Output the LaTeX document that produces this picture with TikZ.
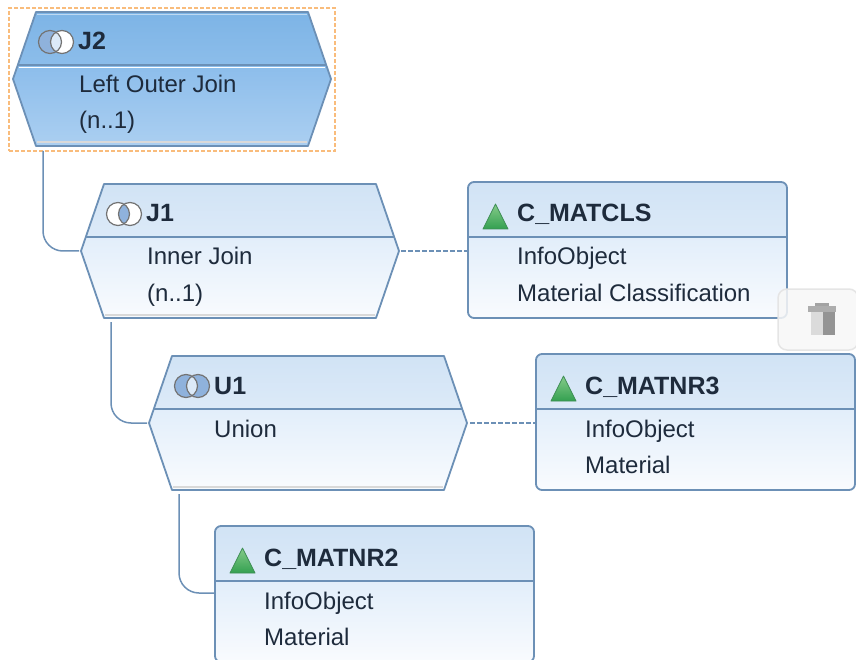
\documentclass[tikz,border=0pt]{standalone}
\usepackage{fontspec}
\setmainfont{Liberation Sans}
\usetikzlibrary{calc}
\definecolor{edgeblue}{HTML}{6C90B6}
\definecolor{inktext}{HTML}{1E2B3C}
\definecolor{lhA}{HTML}{D1E3F5}
\definecolor{lhB}{HTML}{DCEAF8}
\definecolor{lbA}{HTML}{E2EEFA}
\definecolor{lbB}{HTML}{F9FBFE}
\definecolor{dhA}{HTML}{7DB4E6}
\definecolor{dhB}{HTML}{8CBDEA}
\definecolor{dbA}{HTML}{8CBDEB}
\definecolor{dbB}{HTML}{ABCFF1}
\definecolor{venn}{HTML}{8FB2DC}
\definecolor{triA}{HTML}{86CB8A}
\definecolor{triB}{HTML}{33A050}
\definecolor{triE}{HTML}{3E8E55}
\definecolor{selorange}{HTML}{F9BC7C}
\tikzset{
  anchorbox/.style={inner sep=0pt,outer sep=0pt,minimum width=#1},
  titletext/.style={anchor=base west,inner sep=0pt,text=inktext,font=\fontsize{25}{28}\selectfont\bfseries},
  bodytext/.style={anchor=base west,inner sep=0pt,text=inktext,font=\fontsize{24}{28}\selectfont},
  outline/.style={draw=edgeblue,line width=1.8pt,line join=round},
  link/.style={draw=edgeblue,line width=1.5pt,rounded corners=20pt},
  dashlink/.style={draw=edgeblue,line width=1.2pt,dash pattern=on 5pt off 2pt},
  vennring/.style={draw=black!55,line width=1.2pt},
}
% #1 id #2 left #3 top #4 header top #5 header bottom #6 body top #7 body bottom #8 icon code
\newcommand{\HexBox}[8]{%
\begin{scope}[shift={(#2,#3)}]
  \node[anchorbox=318pt,minimum height=134pt,anchor=north west] (#1) at (0,0) {};
  \shade[top color=#4,bottom color=#5] (23,0)--(295,0)--(313.2,53)--(4.8,53)--cycle;
  \shade[top color=#6,bottom color=#7] (4.8,53)--(313.2,53)--(318,67)--(295,134)--(23,134)--(0,67)--cycle;
  \draw[black!15,line width=2pt] (24,130.5)--(294,130.5);
  \draw[outline] (23,0)--(295,0)--(318,67)--(295,134)--(23,134)--(0,67)--cycle;
  \draw[outline] (4.8,53)--(313.2,53);
  \begin{scope}[shift={(25,18)}]#8\end{scope}
\end{scope}}
% #1 id #2 left #3 top
\newcommand{\CardBox}[3]{%
\begin{scope}[shift={(#2,#3)}]
  \node[anchorbox=319pt,minimum height=136pt,anchor=north west] (#1) at (0,0) {};
  \begin{scope}
    \clip[rounded corners=6pt] (0,0) rectangle (319,136);
    \shade[top color=lhA,bottom color=lhB] (0,0) rectangle (319,55);
    \shade[top color=lbA,bottom color=lbB] (0,55) rectangle (319,136);
  \end{scope}
  \draw[outline,rounded corners=6pt] (0,0) rectangle (319,136);
  \draw[outline] (0,55)--(319,55);
  \shade[top color=triA,bottom color=triB,draw=triE,line width=.8pt,line join=round] (27.5,22)--(40,47)--(15,47)--cycle;
\end{scope}}
\newcommand{\VennIcon}[3]{%
  \fill[white] (12,12) circle (11.5pt);
  \fill[white] (24,12) circle (11.5pt);
  #1
  \begin{scope}\clip (12,12) circle (11.5pt);\fill[#2] (24,12) circle (11.5pt);\end{scope}
  #3
  \draw[vennring] (12,12) circle (11.5pt);
  \draw[vennring] (24,12) circle (11.5pt);}
\begin{document}
\begin{tikzpicture}[x=1pt,y=-1pt]
\useasboundingbox (0,0) rectangle (856,660);
\clip (0,0) rectangle (856,660);
\fill[white] (0,0) rectangle (856,660);

\HexBox{J1}{81}{184}{lhA}{lhB}{lbA}{lbB}{\VennIcon{}{venn}{}}
\HexBox{U1}{149}{356}{lhA}{lhB}{lbA}{lbB}{\VennIcon{\fill[venn] (12,12) circle (11.5pt);\fill[venn] (24,12) circle (11.5pt);}{lhB}{}}
\HexBox{J2}{13}{12}{dhA}{dhB}{dbA}{dbB}{\VennIcon{\fill[venn] (12,12) circle (11.5pt);\fill[white] (24,12) circle (11.5pt);}{lhB}{}}
\draw[white,line width=1.4pt] (19,67.5)--(325,67.5);
\draw[white,line width=1pt,opacity=.5] (37,15)--(307,15);

\node[anchorbox=326pt,minimum height=143pt,anchor=north west,draw=selorange,dash pattern=on 4pt off 2pt,line width=1.2pt] (sel) at (9,8) {};

\CardBox{MATCLS}{468}{182}
\node[anchorbox=80pt,minimum height=61pt,anchor=north west,draw=black!10,fill=gray!6,fill opacity=.85,rounded corners=9pt,line width=1.5pt] (trash) at (778,289) {};
\fill[black!14] (811,311) rectangle (823,335);
\fill[black!42] (823,311) rectangle (835,335);
\fill[black!32] (808,306) rectangle (836,312);
\fill[black!36] (815,303) rectangle (829,306);
\CardBox{MATNR3}{536}{354}
\CardBox{MATNR2}{215}{526}

\node[titletext] (tJ2) at (78,50) {J2};
\node[bodytext] (aJ2) at (79,93) {Left Outer Join};
\node[bodytext] (bJ2) at (79,129) {(n..1)};
\node[titletext] (tJ1) at (146,222) {J1};
\node[bodytext] (aJ1) at (147,265) {Inner Join};
\node[bodytext] (bJ1) at (147,301) {(n..1)};
\node[titletext] (tU1) at (214,394) {U1};
\node[bodytext] (aU1) at (214,437) {Union};

\node[titletext] (tC) at (517,222) {C\_MATCLS};
\node[bodytext] (aC) at (517,265) {InfoObject};
\node[bodytext] (bC) at (517,301) {Material Classification};
\node[titletext] (tN3) at (585,394) {C\_MATNR3};
\node[bodytext] (aN3) at (585,437) {InfoObject};
\node[bodytext] (bN3) at (585,473) {Material};
\node[titletext] (tN2) at (264,566) {C\_MATNR2};
\node[bodytext] (aN2) at (264,609) {InfoObject};
\node[bodytext] (bN2) at (264,645) {Material};

\draw[link] ([xshift=34pt]sel.south west) |- ([xshift=-2pt]J1.west);
\draw[link] ([xshift=30pt,yshift=-4pt]J1.south west) |- ([xshift=-2pt]U1.west);
\draw[link] ([xshift=30pt,yshift=-4pt]U1.south west) |- ([yshift=1pt]MATNR2.west);
\draw[dashlink] ([xshift=2pt]J1.east) -- (MATCLS.west |- J1.east);
\draw[dashlink] ([xshift=3pt]U1.east) -- (MATNR3.west |- U1.east);
\end{tikzpicture}
\end{document}
